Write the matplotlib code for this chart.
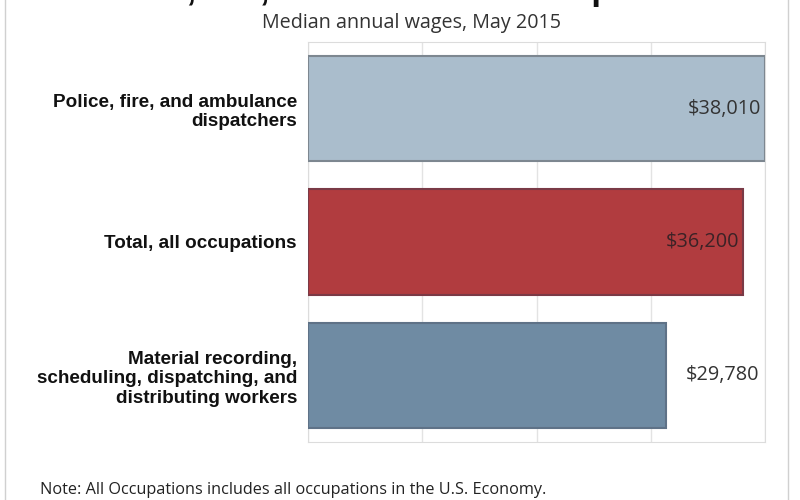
import matplotlib.pyplot as plt
import matplotlib.patches as patches
import numpy as np

# chart data
occupations = ['Police, fire, and ambulance\ndispatchers',
               'Total, all occupations',
               'Material recording,\nscheduling, dispatching, and\ndistributing workers']
wages = [38010, 36200, 29780]
wage_labels = ['$38,010', '$36,200', '$29,780']
bar_colors = ['#aabdcc', '#b13c3f', '#6f8ba3']
edge_colors = ['#7d8790', '#7a3a46', '#5f7287']
label_colors = ['#333333', '#3b2226', '#333333']

title = 'Police, fire, and ambulance dispatchers'
subtitle = 'Median annual wages, May 2015'
note = 'Note: All Occupations includes all occupations in the U.S. Economy.'

W, H = 800, 500
fig = plt.figure(figsize=(8, 5), dpi=100)
ax = fig.add_axes([308/W, 1-442/H, (765-308)/W, 400/H])

ypos = np.arange(len(wages))
ax.barh(ypos, wages, height=0.79, color=bar_colors, edgecolor=edge_colors, linewidth=1.5, zorder=3)

xmax = max(wages)
ax.set_xlim(0, xmax)
ax.set_ylim(len(wages)-0.5, -0.5)
ax.set_xticks(np.linspace(0, xmax, 5))
ax.set_xticklabels([])
ax.tick_params(axis='x', length=0)
ax.grid(axis='x', color='#e3e3e3', linewidth=1, zorder=0)

ax.set_yticks(ypos)
ax.set_yticklabels(occupations, fontfamily='Liberation Sans', fontweight='bold',
                   fontsize=13.6, color='#111111', linespacing=1.2)
ax.tick_params(axis='y', length=0, pad=8)

for s in ax.spines.values():
    s.set_color('#dcdcdc')

# value labels: inside the bar when it is long, outside otherwise
for i, (v, lab) in enumerate(zip(wages, wage_labels)):
    if v / xmax > 0.9:
        ax.annotate(lab, (v, i), xytext=(-3, 0), textcoords='offset points',
                    ha='right', va='center', fontsize=14.3, fontfamily='Open Sans',
                    color=label_colors[i], zorder=4)
    else:
        ax.annotate(lab, (v, i), xytext=(14, 0), textcoords='offset points',
                    ha='left', va='center', fontsize=14.3, fontfamily='Open Sans',
                    color=label_colors[i], zorder=4)

# title is mostly cut off at the top edge, as in the source image
fig.text(410/W, 1.0, title, ha='center', va='baseline', fontsize=25,
         fontweight='bold', fontfamily='Liberation Sans', color='#111111')
fig.text(412/W, 1-23/H, subtitle, ha='center', va='center', fontsize=14.2,
         fontfamily='Open Sans', color='#333333')
fig.text(40/W, 1-490/H, note, ha='left', va='center', fontsize=11.7,
         fontfamily='Open Sans', color='#222222')

# thin frame around the whole picture
fig.patches.append(patches.Rectangle((5/W, -0.05), (788-5)/W, 1.1, transform=fig.transFigure,
                                     fill=False, edgecolor='#d0d0d0', linewidth=1))

fig.savefig('out.png', dpi=100)
